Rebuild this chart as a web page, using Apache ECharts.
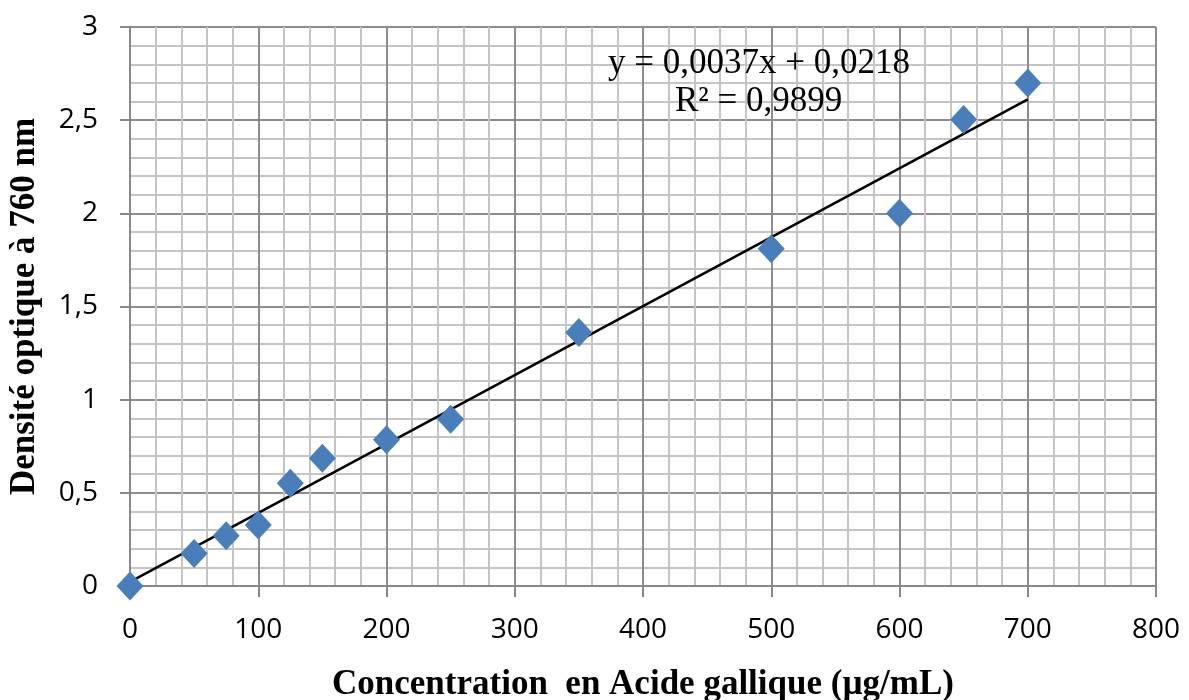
<!DOCTYPE html>
<html><head><meta charset="utf-8">
<script src="https://cdn.jsdelivr.net/npm/echarts@6/dist/echarts.min.js"></script>
<style>html,body{margin:0;padding:0;background:#fff}#c{width:1189px;height:700px}</style>
</head><body><div id="c"></div>
<script>
const concentrations = [0, 50, 75, 100, 125, 150, 200, 250, 350, 500, 600, 650, 700];
const absorbances = [0, 0.175, 0.27, 0.327, 0.552, 0.685, 0.785, 0.895, 1.36, 1.81, 2.0, 2.503, 2.70];
const slope = 0.0037, intercept = 0.0218;
const trendX = [0, 700];
const equationLines = ['y = 0,0037x + 0,0218', 'R² = 0,9899'];
const xTitle = 'Concentration  en Acide gallique (µg/mL)';
const yTitle = 'Densité optique à 760 nm';

const chart = echarts.init(document.getElementById('c'));
const fmt = v => String(v).replace('.', ',');
chart.setOption({
  animation: false,
  grid: {left: 130, right: 33, top: 27, bottom: 114, containLabel: false, outerBoundsMode: 'none'},
  xAxis: {
    type: 'value', min: 0, max: 800, interval: 100,
    name: xTitle, nameLocation: 'middle', nameGap: 81,
    nameTextStyle: {fontFamily: 'Liberation Serif', fontWeight: 'bold', fontSize: 35, color: '#000'},
    axisLine: {show: true, lineStyle: {color: '#888', width: 2}},
    axisTick: {show: true, length: 11, lineStyle: {color: '#888', width: 2}},
    axisLabel: {fontFamily: 'Open Sans', fontSize: 28, color: '#000', margin: 30},
    splitLine: {show: true, lineStyle: {color: '#8c8c8c', width: 2}},
    minorTick: {show: true, splitNumber: 5, length: 0},
    minorSplitLine: {show: true, lineStyle: {color: '#c4c4c4', width: 2}}
  },
  yAxis: {
    type: 'value', min: 0, max: 3, interval: 0.5,
    name: yTitle, nameLocation: 'middle', nameGap: 88, nameRotate: 90,
    nameTextStyle: {fontFamily: 'Liberation Serif', fontWeight: 'bold', fontSize: 35, color: '#000'},
    axisLine: {show: true, lineStyle: {color: '#888', width: 2}},
    axisTick: {show: true, length: 10, lineStyle: {color: '#888', width: 2}},
    axisLabel: {fontFamily: 'Open Sans', fontSize: 28, color: '#000', margin: 32, formatter: fmt},
    splitLine: {show: true, lineStyle: {color: '#8c8c8c', width: 2}},
    minorTick: {show: true, splitNumber: 5, length: 0},
    minorSplitLine: {show: true, lineStyle: {color: '#c4c4c4', width: 2}}
  },
  series: [
    {
      type: 'line', data: trendX.map(x => [x, slope * x + intercept]),
      symbol: 'none', lineStyle: {color: '#000', width: 2.5}, z: 2, silent: true
    },
    {
      type: 'scatter', data: concentrations.map((c, i) => [c, absorbances[i]]),
      symbol: 'diamond', symbolSize: [27, 29],
      itemStyle: {color: '#4a7ebb', opacity: 1}, z: 3
    }
  ],
  graphic: [
    {type: 'text', left: 608, top: 46, z: 10, style: {text: equationLines[0], font: '35px "Liberation Serif"', fill: '#000'}},
    {type: 'text', left: 675, top: 84, z: 10, style: {text: equationLines[1], font: '35px "Liberation Serif"', fill: '#000'}}
  ]
});
</script></body></html>
